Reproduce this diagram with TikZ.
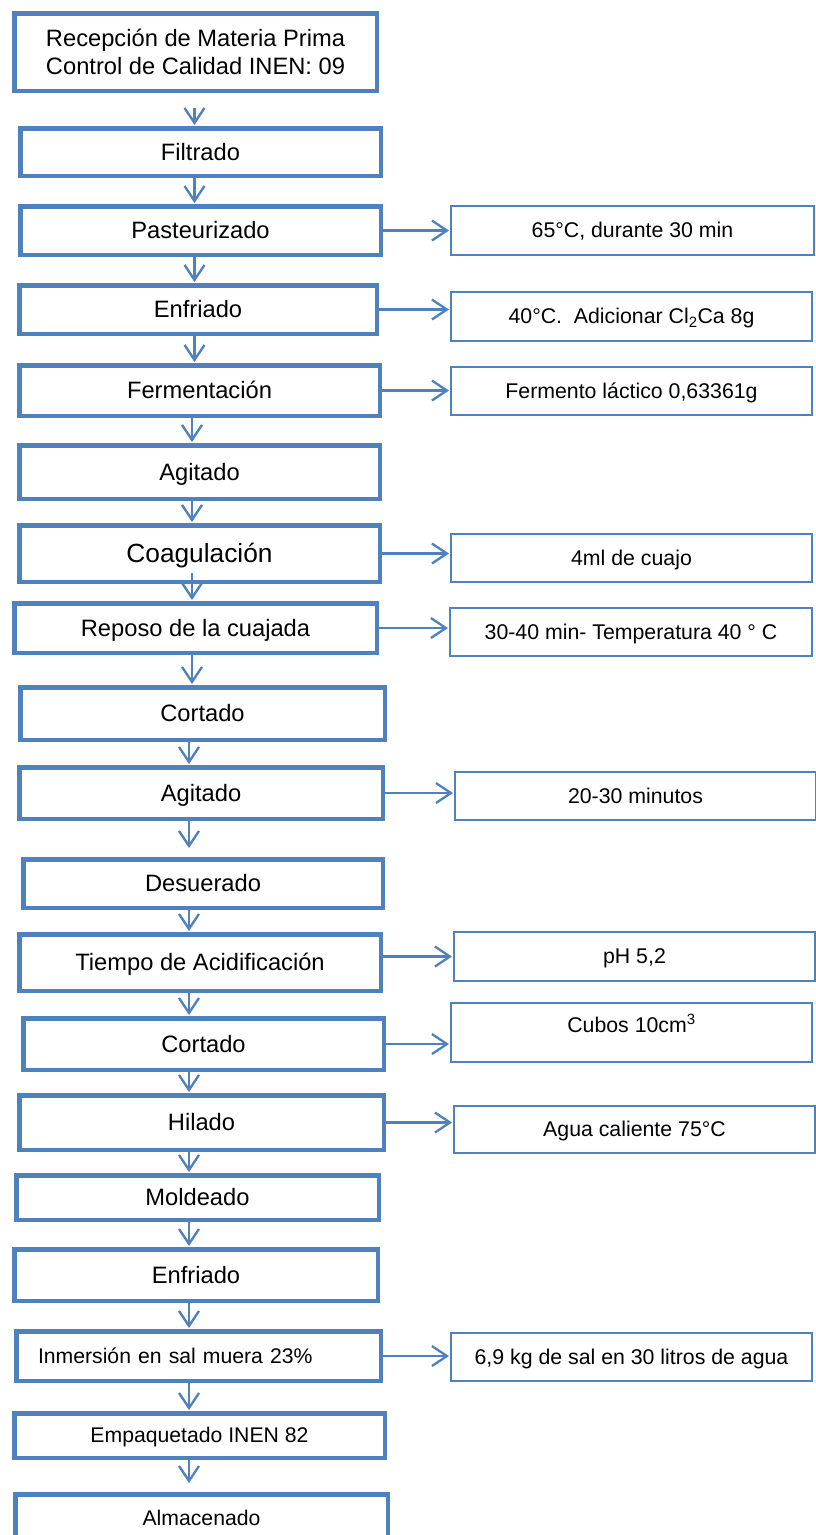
\documentclass[tikz,border=0pt]{standalone}
\usepackage{fontspec}
\setmainfont{Liberation Sans}
\usetikzlibrary{arrows.meta}
\definecolor{flowblue}{RGB}{79,129,189}

\begin{document}
\begin{tikzpicture}[x=1pt,y=-1pt,
  stage/.style={draw=flowblue, line width=4.5pt, fill=white, inner sep=0pt,
    align=center, font=\fontsize{23.7}{28}\selectfont,
    text height=20.1pt, text depth=3.6pt},
  small/.style={font=\fontsize{21.2}{25}\selectfont, text height=18pt, text depth=3.2pt},
  note/.style={draw=flowblue, line width=2.3pt, fill=white, inner sep=0pt,
    align=center, font=\fontsize{21.3}{25}\selectfont,
    text height=18.1pt, text depth=3.2pt},
  mainsz/.style 2 args={minimum width={#1pt-4.5pt}, minimum height={#2pt-4.5pt}},
  notesz/.style 2 args={minimum width={#1pt-2.3pt}, minimum height={#2pt-2.3pt}},
  flow/.style={draw=flowblue, line width=2.3pt, shorten >=1pt,
    -{Straight Barb[length=15pt,width=20pt]}},
]
\useasboundingbox (0,0) rectangle (816,1535);
\clip (0,0) rectangle (816,1535);
\fill[white] (0,0) rectangle (816,1535);

% process stages (left column)
\node[stage, mainsz={367}{82}, text height={}, text depth={}] (recep) at (195.5,52)
  {Recepción de Materia Prima\\Control de Calidad INEN: 09};
\node[stage, mainsz={365}{52}] (filt)  at (200.5,152)   {Filtrado};
\node[stage, mainsz={365}{53}] (past)  at (200.5,230.5) {Pasteurizado};
\node[stage, mainsz={362}{53}] (enf)   at (198,309.5)   {Enfriado};
\node[stage, mainsz={365}{55}] (ferm)  at (199.5,390.5) {Fermentación};
\node[stage, mainsz={365}{58}] (agit)  at (199.5,472)   {Agitado};
\node[stage, mainsz={365}{61}, font=\fontsize{26.3}{30}\selectfont,
      text height=22.4pt, text depth=3.9pt] (coag) at (199.5,553.5) {Coagulación};
\node[stage, mainsz={367}{54}] (repo)  at (195.5,628)   {Reposo de la cuajada};
\node[stage, mainsz={369}{57}] (cort)  at (202.5,713.5) {Cortado};
\node[stage, mainsz={368}{56}] (agit2) at (201,793)     {Agitado};
\node[stage, mainsz={364}{53}] (desu)  at (203,883.5)   {Desuerado};
\node[stage, mainsz={366}{61}] (acid)  at (200,962.5)   {Tiempo de Acidificación};
\node[stage, mainsz={365}{56}] (cort2) at (203.5,1044)  {Cortado};
\node[stage, mainsz={369}{59}] (hila)  at (201.5,1122.5){Hilado};
\node[stage, mainsz={367}{49}] (mold)  at (197.5,1197.5){Moldeado};
\node[stage, mainsz={368}{56}] (enf2)  at (196,1275)    {Enfriado};
\node[stage, small, mainsz={369}{54}, text width=321pt, inner xsep=21.75pt, align=left]
      (inm) at (198.5,1356) {Inmersión en sal muera 23\%};
\node[stage, small, mainsz={375}{49}] (emp) at (199.5,1435.5) {Empaquetado INEN 82};
\node[stage, small, mainsz={377}{53}] (alm) at (201.5,1518.5) {Almacenado};

% process conditions (right column)
\node[note, notesz={365}{51}] (n1)  at (632.5,230.5) {65°C, durante 30 min};
\node[note, notesz={363}{51}] (n2)  at (631.5,316.5) {40°C.\ \ Adicionar Cl\textsubscript{2}Ca 8g};
\node[note, notesz={363}{50}] (n3)  at (631.5,391)   {Fermento láctico 0,63361g};
\node[note, notesz={363}{50}] (n4)  at (631.5,558)   {4ml de cuajo};
\node[note, notesz={364}{50}] (n5)  at (631,632)     {30-40 min- Temperatura 40 ° C};
\node[note, notesz={363}{50}] (n6)  at (635.5,796)   {20-30 minutos};
\node[note, notesz={363}{51}] (n7)  at (634.5,956.5) {pH 5,2};
\node[note, notesz={363}{61}, text height=14pt, text depth=14pt] (n8) at (631.5,1032.5)
      {Cubos 10cm\textsuperscript{3}};
\node[note, notesz={363}{49}] (n9)  at (634.5,1129.5){Agua caliente 75°C};
\node[note, notesz={363}{50}] (n10) at (631.5,1357)  {6,9 kg de sal en 30 litros de agua};

% columns for the downward arrows
\coordinate (sx1) at (194.5,0);
\coordinate (sx2) at (192,0);
\coordinate (sx3) at (189,0);

\draw[flow, shorten <=15pt] (recep.south -| sx1) -- (filt.north -| sx1);
\draw[flow] (filt.south -| sx1) -- (past.north -| sx1);
\draw[flow] (past.south -| sx1) -- (enf.north -| sx1);
\draw[flow] (enf.south -| sx1)  -- (ferm.north -| sx1);
\draw[flow] (ferm.south -| sx2) -- (agit.north -| sx2);
\draw[flow] (agit.south -| sx2) -- (coag.north -| sx2);
\draw[flow, shorten <=-11pt] (coag.south -| sx2) -- (repo.north -| sx2);
\draw[flow] (repo.south -| sx2) -- (cort.north -| sx2);
\draw[flow] (cort.south -| sx3) -- (agit2.north -| sx3);
\draw[flow, shorten >=9pt] (agit2.south -| sx3) -- (desu.north -| sx3);
\draw[flow] (desu.south -| sx3) -- (acid.north -| sx3);
\draw[flow] (acid.south -| sx3) -- (cort2.north -| sx3);
\draw[flow] (cort2.south -| sx3) -- (hila.north -| sx3);
\draw[flow] (hila.south -| sx3) -- (mold.north -| sx3);
\draw[flow] (mold.south -| sx3) -- (enf2.north -| sx3);
\draw[flow] (enf2.south -| sx3) -- (inm.north -| sx3);
\draw[flow] (inm.south -| sx3)  -- (emp.north -| sx3);
\draw[flow, shorten >=9pt] (emp.south -| sx3) -- (alm.north -| sx3);

% side arrows to the conditions
\draw[flow] (past.east)  -- (past.east -| n1.west);
\draw[flow] (enf.east)   -- (enf.east -| n2.west);
\draw[flow] (ferm.east)  -- (ferm.east -| n3.west);
\draw[flow] (coag.east)  -- (coag.east -| n4.west);
\draw[flow] (repo.east)  -- (repo.east -| n5.west);
\draw[flow] (agit2.east) -- (agit2.east -| n6.west);
\draw[flow] (n7.west -| acid.east) -- (n7.west);
\draw[flow] (cort2.east) -- (cort2.east -| n8.west);
\draw[flow] (hila.east)  -- (hila.east -| n9.west);
\draw[flow] (inm.east)   -- (inm.east -| n10.west);
\end{tikzpicture}
\end{document}
